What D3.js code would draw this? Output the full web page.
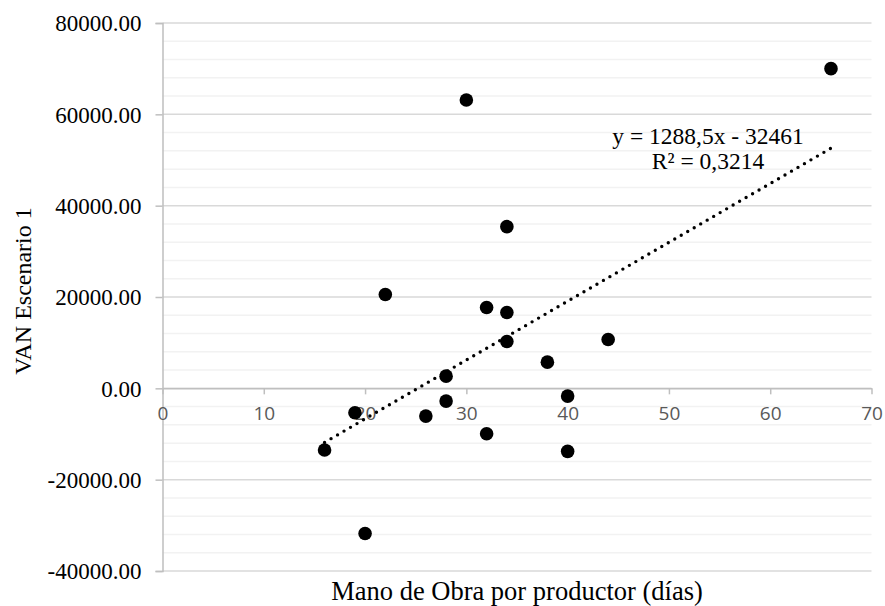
<!DOCTYPE html>
<html>
<head>
<meta charset="utf-8">
<script src="https://cdn.jsdelivr.net/npm/d3@7"></script>
<style>
  body { margin: 0; background: #fff; }
  svg { display: block; }
</style>
</head>
<body>
<svg id="chart"></svg>
<script>
// points: labour days per producer vs VAN
const xValues = [66, 30, 34, 22, 32, 34, 34, 44, 38, 28, 40, 28, 26, 19, 32, 16, 40, 20];
const yValues = [70000, 63150, 35400, 20550, 17700, 16600, 10260, 10700, 5730, 2670, -1700, -2800, -6080, -5340, -9940, -13500, -13800, -31800];
const xTicks = [0, 10, 20, 30, 40, 50, 60, 70];
const yTicks = [-40000, -20000, 0, 20000, 40000, 60000, 80000];
const trendSlope = 1288.5;
const trendIntercept = -32461;
const trendText = ['y = 1288,5x - 32461', 'R² = 0,3214'];
const xTitle = 'Mano de Obra por productor (días)';
const yTitle = 'VAN Escenario 1';

const width = 885;
const height = 606;
const serif = '"Liberation Serif", "Times New Roman", serif';

const svg = d3.select('#chart').attr('width', width).attr('height', height);

const x = d3.scaleLinear().domain([0, 70]).range([162.5, 871.5]);
const y = d3.scaleLinear().domain([-40000, 80000]).range([571, 23]);

// minor gridlines every 4000
const minor = d3.range(-40000, 80001, 4000).filter(v => v % 20000 != 0);
svg.append('g').selectAll('line').data(minor).enter()
    .append('line')
    .attr('x1', x(0)).attr('x2', x(70))
    .attr('y1', v => y(v)).attr('y2', v => y(v))
    .attr('stroke', '#f2f2f2').attr('stroke-width', 1.5);

// major gridlines
svg.append('g').selectAll('line').data(yTicks).enter()
    .append('line')
    .attr('x1', x(0)).attr('x2', x(70))
    .attr('y1', v => y(v)).attr('y2', v => y(v))
    .attr('stroke', '#d9d9d9').attr('stroke-width', 1.5);

// y axis (plain hyphen for negatives, like the original)
const yAxis = svg.append('g')
    .attr('transform', `translate(${x(0)},0)`)
    .call(d3.axisLeft(y).tickValues(yTicks).tickSize(7).tickPadding(14).tickFormat(v => v.toFixed(2)));
yAxis.select('.domain').attr('stroke', '#bfbfbf').attr('stroke-width', 1.5);
yAxis.selectAll('.tick line').attr('stroke', '#bfbfbf').attr('stroke-width', 1.5);
yAxis.selectAll('.tick text')
    .attr('font-family', serif).attr('font-size', '23px').attr('fill', '#000')
    .attr('dy', '0.34em');

// x axis drawn where y = 0
const xAxis = svg.append('g')
    .attr('transform', `translate(0,${y(0)})`)
    .call(d3.axisBottom(x).tickValues(xTicks).tickSize(6).tickPadding(12).tickSizeOuter(0));
xAxis.select('.domain').attr('stroke', '#bfbfbf').attr('stroke-width', 1.5);
xAxis.selectAll('.tick line').attr('stroke', '#bfbfbf').attr('stroke-width', 1.5);
xAxis.selectAll('.tick text')
    .attr('font-family', '"Open Sans", sans-serif').attr('font-size', '19px').attr('fill', '#595959');

// linear trendline
const xMin = d3.min(xValues), xMax = d3.max(xValues);
svg.append('line')
    .attr('x1', x(xMin)).attr('y1', y(trendSlope * xMin + trendIntercept))
    .attr('x2', x(xMax)).attr('y2', y(trendSlope * xMax + trendIntercept))
    .attr('stroke', '#000').attr('stroke-width', 3.4)
    .attr('stroke-linecap', 'round').attr('stroke-dasharray', '0 7.5');

// points
svg.append('g').selectAll('circle').data(xValues).enter()
    .append('circle')
    .attr('cx', (v, i) => x(v))
    .attr('cy', (v, i) => y(yValues[i]))
    .attr('r', 6.8)
    .attr('fill', '#000');

// trendline label
svg.append('g').selectAll('text').data(trendText).enter()
    .append('text')
    .text(v => v)
    .attr('x', 708)
    .attr('y', (v, i) => 144 + i * 25)
    .attr('text-anchor', 'middle')
    .attr('font-family', serif).attr('font-size', '23.5px').attr('fill', '#000');

// axis titles
svg.append('text')
    .text(xTitle)
    .attr('x', (x(0) + x(70)) / 2)
    .attr('y', 600)
    .attr('text-anchor', 'middle')
    .attr('font-family', serif).attr('font-size', '26.5px').attr('fill', '#000');

svg.append('text')
    .text(yTitle)
    .attr('transform', `translate(31,${(y(80000) + y(-40000)) / 2 - 6}) rotate(-90)`)
    .attr('text-anchor', 'middle')
    .attr('font-family', serif).attr('font-size', '24px').attr('fill', '#000');
</script>
</body>
</html>
